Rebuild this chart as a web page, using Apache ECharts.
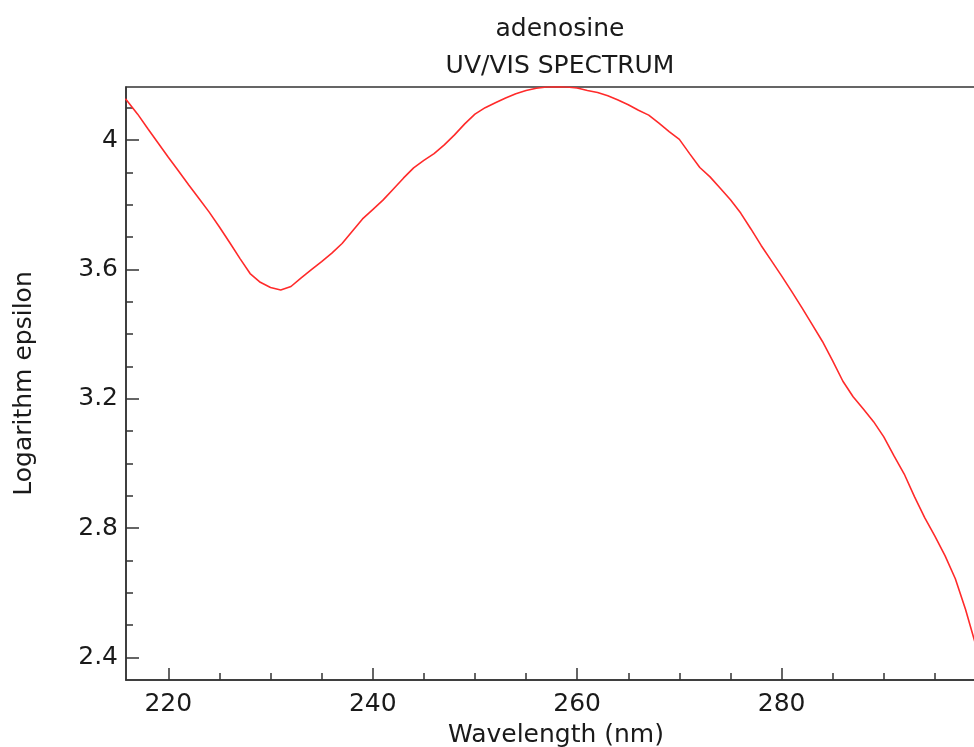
<!DOCTYPE html>
<html>
<head>
<meta charset="utf-8">
<title>adenosine UV/VIS spectrum</title>
<script src="https://cdn.jsdelivr.net/npm/echarts@6/dist/echarts.min.js"></script>
<style>
  html, body { margin: 0; padding: 0; background: #ffffff; }
  #chart { width: 974px; height: 747px; }
</style>
</head>
<body>
<div id="chart"></div>
<script>
// Wavelength (nm) and log(epsilon) of adenosine
const wavelengths = [
  215.8, 216, 217, 218, 219, 220, 221, 222, 223, 224, 225, 226, 227, 228, 229,
  230, 231, 232, 233, 234, 235, 236, 237, 238, 239, 240, 241, 242, 243, 244,
  245, 246, 247, 248, 249, 250, 251, 252, 253, 254, 255, 256, 257, 258, 259,
  260, 261, 262, 263, 264, 265, 266, 267, 268, 269, 270, 271, 272, 273, 274,
  275, 276, 277, 278, 279, 280, 281, 282, 283, 284, 285, 286, 287, 288, 289,
  290, 291, 292, 293, 294, 295, 296, 297, 298, 299, 300
];
const logEpsilon = [
  4.128, 4.120, 4.080, 4.035, 3.991, 3.947, 3.904, 3.861, 3.819, 3.777, 3.731, 3.683, 3.634, 3.587, 3.560,
  3.544, 3.536, 3.547, 3.574, 3.599, 3.624, 3.650, 3.680, 3.718, 3.756, 3.785, 3.814, 3.848, 3.882, 3.914,
  3.937, 3.958, 3.985, 4.016, 4.050, 4.080, 4.100, 4.115, 4.130, 4.143, 4.153, 4.160, 4.164, 4.165, 4.164,
  4.161, 4.153, 4.147, 4.137, 4.124, 4.109, 4.092, 4.077, 4.052, 4.026, 4.002, 3.958, 3.915, 3.886, 3.851,
  3.815, 3.774, 3.725, 3.674, 3.627, 3.580, 3.531, 3.481, 3.429, 3.377, 3.317, 3.254, 3.206, 3.168, 3.129,
  3.082, 3.023, 2.967, 2.897, 2.832, 2.775, 2.714, 2.643, 2.548, 2.438, 2.330
];

// Axis ticks and labels
const xLabelValues = [220, 240, 260, 280];
const xMajorTicks = [220, 240, 260, 280, 300];
const xMinorTicks = [225, 230, 235, 245, 250, 255, 265, 270, 275, 285, 290, 295];
const yMajorTicks = [2.4, 2.8, 3.2, 3.6, 4.0];
const yMinorTicks = [2.5, 2.6, 2.7, 2.9, 3.0, 3.1, 3.3, 3.4, 3.5, 3.7, 3.8, 3.9, 4.1];

const X_MIN = 215.86, X_MAX = 300;
const Y_MIN = 2.330, Y_MAX = 4.164;

const FONT = 'DejaVu Sans';
const FONT_SIZE = 25;
const TEXT = '#1a1a1a';
const AXIS = '#333333';

const chart = echarts.init(document.getElementById('chart'), null, { renderer: 'canvas' });

const points = wavelengths.map((w, i) => [w, logEpsilon[i]]);

// Overlay axis that only draws short minor ticks
function minorAxis(base, ticks, len) {
  return Object.assign({
    type: 'value',
    axisLine: { show: false },
    axisLabel: { show: false },
    splitLine: { show: false },
    axisTick: { show: true, inside: true, length: len, customValues: ticks, lineStyle: { color: AXIS, width: 1.5 } }
  }, base);
}

chart.setOption({
  animation: false,
  backgroundColor: '#ffffff',
  title: {
    text: 'adenosine\nUV/VIS SPECTRUM',
    left: 555,
    top: 6,
    textAlign: 'center',
    textStyle: { fontFamily: FONT, fontSize: FONT_SIZE, fontWeight: 'normal', color: TEXT, lineHeight: 37 }
  },
  grid: {
    left: 126, top: 87, width: 860, height: 593,
    outerBoundsMode: 'none',
    containLabel: false,
    show: true, borderColor: AXIS, borderWidth: 1.5, backgroundColor: 'transparent'
  },
  xAxis: [
    {
      type: 'value', min: X_MIN, max: X_MAX, position: 'bottom',
      name: 'Wavelength (nm)', nameLocation: 'middle', nameGap: 43,
      nameTextStyle: { fontFamily: FONT, fontSize: FONT_SIZE, color: TEXT },
      axisLine: { show: true, lineStyle: { color: AXIS, width: 1.5 } },
      axisTick: { show: true, inside: true, length: 12, customValues: xMajorTicks, lineStyle: { color: AXIS, width: 1.5 } },
      axisLabel: { customValues: xLabelValues, margin: 12, fontFamily: FONT, fontSize: FONT_SIZE, color: TEXT },
      splitLine: { show: false }
    },
    minorAxis({ min: X_MIN, max: X_MAX, position: 'bottom' }, xMinorTicks, 7)
  ],
  yAxis: [
    {
      type: 'value', min: Y_MIN, max: Y_MAX, position: 'left',
      name: 'Logarithm epsilon', nameLocation: 'middle', nameGap: 89,
      nameTextStyle: { fontFamily: FONT, fontSize: FONT_SIZE, color: TEXT },
      axisLine: { show: true, lineStyle: { color: AXIS, width: 1.5 } },
      axisTick: { show: true, inside: true, length: 13, customValues: yMajorTicks, lineStyle: { color: AXIS, width: 1.5 } },
      axisLabel: {
        customValues: yMajorTicks, margin: 8, fontFamily: FONT, fontSize: FONT_SIZE, color: TEXT,
        formatter: v => (Math.abs(v - 4) < 1e-9 ? '4' : v.toFixed(1))
      },
      splitLine: { show: false }
    },
    minorAxis({ min: Y_MIN, max: Y_MAX, position: 'left' }, yMinorTicks, 7)
  ],
  series: [{
    type: 'line',
    data: points,
    xAxisIndex: 0,
    yAxisIndex: 0,
    showSymbol: false,
    clip: true,
    lineStyle: { color: '#ff2a2a', width: 1.6 }
  }]
});
</script>
</body>
</html>
